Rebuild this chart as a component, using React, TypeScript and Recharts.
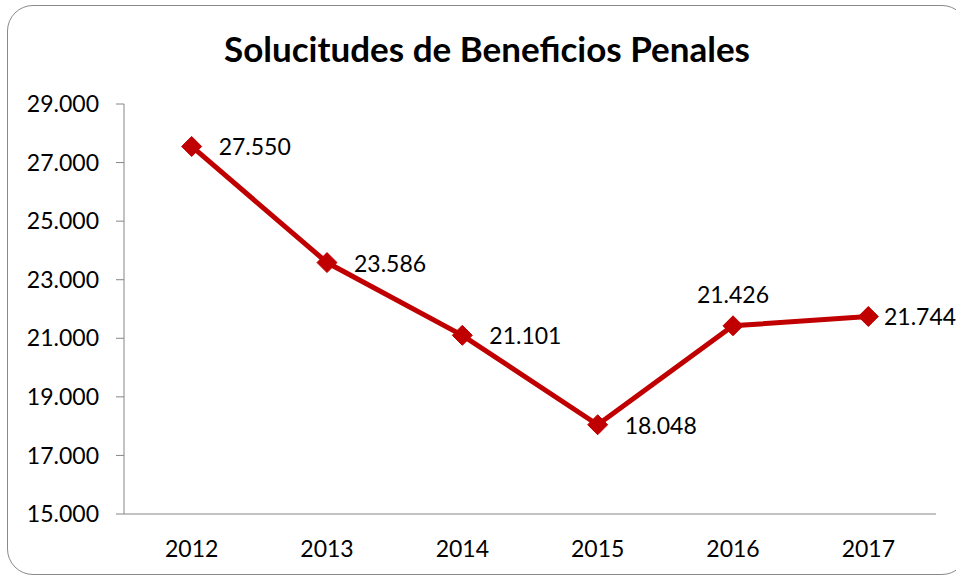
import React from 'react';
import { LineChart, Line, XAxis, YAxis, LabelList } from 'recharts';

const years = ['2012', '2013', '2014', '2015', '2016', '2017'];
const solicitudes = [27550, 23586, 21101, 18048, 21426, 21744];
const yTicks = [15000, 17000, 19000, 21000, 23000, 25000, 27000, 29000];
const boundaryTicks = [0, 1, 2, 3, 4, 5, 6];
const labelsAbove = ['2016'];
const title = 'Solucitudes de Beneficios Penales';

const data = years.map((y, i) => ({ year: y, value: solicitudes[i] }));

const FONT = 'Lato, "Open Sans", sans-serif';
const AXIS = '#868686';
const RED = '#C00000';
const CHART_W = 956;
const LABEL_W = 72;

const fmt = (v: number) => String(v).replace(/\B(?=(\d{3})+(?!\d))/g, '.');

const Diamond = (props: any) => {
  const { cx, cy } = props;
  if (cx == null || cy == null) return null;
  const r = 10;
  return (
    <polygon
      points={`${cx},${cy - r} ${cx + r},${cy} ${cx},${cy + r} ${cx - r},${cy}`}
      fill={RED}
      stroke={RED}
    />
  );
};

const renderLabel = (props: any) => {
  const { x, y, value, index } = props;
  const above = labelsAbove.includes(years[index]);
  if (above) {
    return (
      <text x={x} y={y - 32} textAnchor="middle" dominantBaseline="central" fontFamily={FONT} fontSize={23} fill="#000">
        {fmt(value)}
      </text>
    );
  }
  const start = Math.min(x + 27, CHART_W - LABEL_W);
  return (
    <text x={start} y={y} textAnchor="start" dominantBaseline="central" fontFamily={FONT} fontSize={23} fill="#000">
      {fmt(value)}
    </text>
  );
};

export default function App() {
  return (
    <div style={{ position: 'absolute', left: 0, top: 0, width: 956, height: 578, overflow: 'hidden', background: '#fff' }}>
      <div
        style={{
          position: 'absolute',
          left: 7,
          top: 5,
          width: 961,
          height: 570,
          border: '1.5px solid #8a8a8a',
          borderRadius: 26,
          boxSizing: 'border-box',
        }}
      />
      <div
        style={{
          position: 'absolute',
          left: 0,
          top: 27,
          width: 974,
          textAlign: 'center',
          fontFamily: FONT,
          fontWeight: 700,
          fontSize: 35,
          lineHeight: '42px',
          color: '#000',
        }}
      >
        {title}
      </div>
      <div style={{ position: 'absolute', left: 0, top: 0 }}>
        <LineChart width={CHART_W} height={578} data={data} margin={{ top: 104, right: 20, bottom: 24, left: 0 }}>
          <XAxis
            xAxisId="marks"
            type="number"
            domain={[0, 6]}
            ticks={boundaryTicks}
            tickFormatter={() => ''}
            axisLine={false}
            tickLine={{ stroke: AXIS }}
            tickSize={8}
            height={0}
          />
          <XAxis
            dataKey="year"
            type="category"
            scale="band"
            axisLine={{ stroke: AXIS }}
            tickLine={false}
            tickMargin={21}
            tick={{ fontFamily: FONT, fontSize: 23, fill: '#000' }}
            height={40}
          />
          <YAxis
            type="number"
            domain={[15000, 29000]}
            ticks={yTicks}
            tickFormatter={fmt}
            axisLine={{ stroke: AXIS }}
            tickLine={{ stroke: AXIS }}
            tickSize={8}
            tickMargin={17}
            width={124}
            tick={{ fontFamily: FONT, fontSize: 23, fill: '#000' }}
            interval={0}
          />
          <Line
            dataKey="value"
            stroke={RED}
            strokeWidth={5}
            dot={<Diamond />}
            activeDot={false}
            isAnimationActive={false}
          >
            <LabelList dataKey="value" content={renderLabel} />
          </Line>
        </LineChart>
      </div>
    </div>
  );
}
